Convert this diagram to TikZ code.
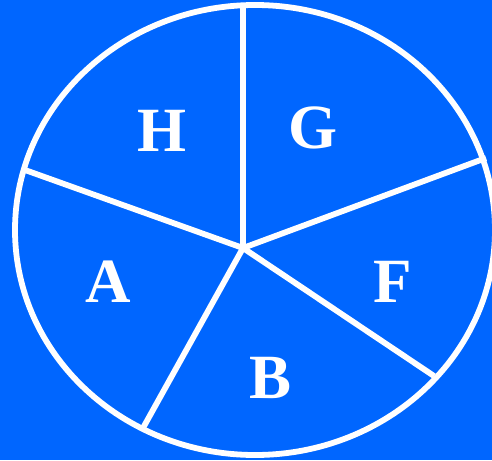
\documentclass[tikz,border=0pt]{standalone}
\usepackage{xcolor}
\usepackage{fontspec}
\setmainfont{Liberation Serif}
\usepackage{tikz}
\usetikzlibrary{positioning}

\definecolor{pieblue}{RGB}{0,102,255}

\begin{document}
\begin{tikzpicture}[x=1pt, y=-1pt, line width=5.8pt,
        label/.style={text=white, font=\fontsize{63}{63}\selectfont\bfseries, inner sep=0pt}]
        \fill[pieblue] (0,0) rectangle (492,460);
        \clip (0,0) rectangle (492,460);

        \draw[white] (255,230) ellipse [x radius=240, y radius=225];

        \coordinate (c) at (243,248);
        \coordinate (e1) at (243,8);
        \coordinate (e2) at (486,158);
        \coordinate (e3) at (434,376);
        \coordinate (e4) at (143,428);
        \coordinate (e5) at (25,170);

        \node[label] (H) at (162,131) {H};
        \node[label] (G) at (313,128) {G};
        \node[label] (A) at (108,282) {A};
        \node[label] (F) at (393,282) {F};
        \node[label] (B) at (271,378) {B};

        \draw[white]
        (c) -- (e1)
        (c) -- (e2)
        (c) -- (e3)
        (c) -- (e4)
        (c) -- (e5);

    \end{tikzpicture}
\end{document}
